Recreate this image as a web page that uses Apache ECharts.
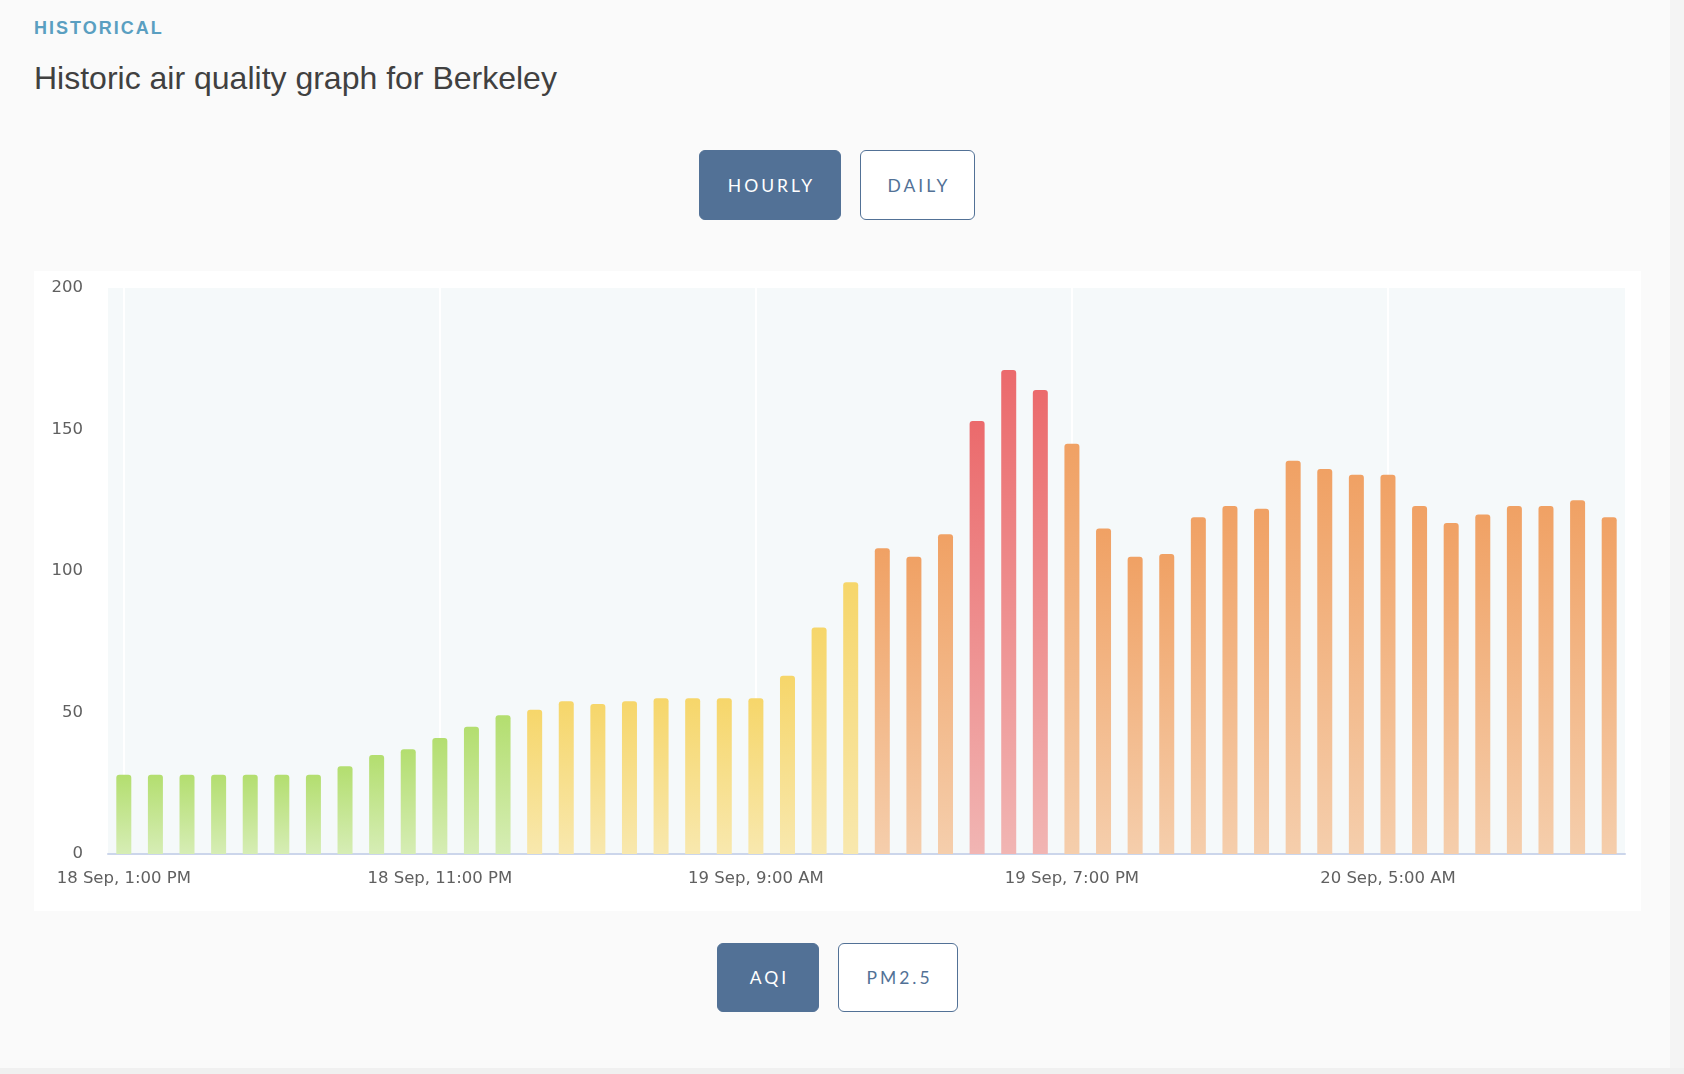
<!DOCTYPE html>
<html>
<head>
<meta charset="utf-8">
<title>Historic air quality graph for Berkeley</title>
<script src="https://cdn.jsdelivr.net/npm/echarts@6/dist/echarts.min.js"></script>
<style>
  html, body { margin: 0; padding: 0; }
  body {
    width: 1684px; height: 1074px; position: relative; overflow: hidden;
    background: #fafafa; font-family: "Liberation Sans", Arial, sans-serif;
  }
  .edge-r { position: absolute; left: 1670px; top: 0; width: 14px; height: 1074px; background: #f4f4f4; }
  .edge-b { position: absolute; left: 0; top: 1068px; width: 1684px; height: 6px; background: #f0f0f0; }
  .kicker {
    position: absolute; left: 34px; top: 18px; margin: 0;
    font-size: 18px; font-weight: bold; letter-spacing: 2px; color: #5a9fc1;
  }
  .title {
    position: absolute; left: 34px; top: 60px; margin: 0;
    font-size: 32px; font-weight: normal; color: #404040;
  }
  .btn {
    position: absolute; box-sizing: border-box; border-radius: 6px;
    border: 1px solid #527196; background: #fff; color: #527196;
    font-family: Lato, "Noto Sans", sans-serif; font-size: 17.5px; letter-spacing: 3px;
    display: flex; align-items: center; justify-content: center; padding-left: 3px;
  }
  .btn.on { background: #527196; color: #fff; }
  #chart {
    position: absolute; left: 34px; top: 271px; width: 1607px; height: 640px; background: #fff;
  }
</style>
</head>
<body>
<div class="edge-r"></div>
<div class="edge-b"></div>
<p class="kicker">HISTORICAL</p>
<h2 class="title">Historic air quality graph for Berkeley</h2>

<div class="btn on" style="left:699px;top:150px;width:142px;height:70px;">HOURLY</div>
<div class="btn" style="left:860px;top:150px;width:115px;height:70px;">DAILY</div>

<div id="chart"></div>

<div class="btn on" style="left:717px;top:943px;width:102px;height:69px;">AQI</div>
<div class="btn" style="left:838px;top:943px;width:120px;height:69px;">PM2.5</div>

<script>
// hourly categories, 18 Sep 1 PM -> 20 Sep 12 PM
var hours = [
  '18 Sep, 1:00 PM', '18 Sep, 2:00 PM', '18 Sep, 3:00 PM', '18 Sep, 4:00 PM', '18 Sep, 5:00 PM',
  '18 Sep, 6:00 PM', '18 Sep, 7:00 PM', '18 Sep, 8:00 PM', '18 Sep, 9:00 PM', '18 Sep, 10:00 PM',
  '18 Sep, 11:00 PM', '19 Sep, 12:00 AM', '19 Sep, 1:00 AM', '19 Sep, 2:00 AM', '19 Sep, 3:00 AM',
  '19 Sep, 4:00 AM', '19 Sep, 5:00 AM', '19 Sep, 6:00 AM', '19 Sep, 7:00 AM', '19 Sep, 8:00 AM',
  '19 Sep, 9:00 AM', '19 Sep, 10:00 AM', '19 Sep, 11:00 AM', '19 Sep, 12:00 PM', '19 Sep, 1:00 PM',
  '19 Sep, 2:00 PM', '19 Sep, 3:00 PM', '19 Sep, 4:00 PM', '19 Sep, 5:00 PM', '19 Sep, 6:00 PM',
  '19 Sep, 7:00 PM', '19 Sep, 8:00 PM', '19 Sep, 9:00 PM', '19 Sep, 10:00 PM', '19 Sep, 11:00 PM',
  '20 Sep, 12:00 AM', '20 Sep, 1:00 AM', '20 Sep, 2:00 AM', '20 Sep, 3:00 AM', '20 Sep, 4:00 AM',
  '20 Sep, 5:00 AM', '20 Sep, 6:00 AM', '20 Sep, 7:00 AM', '20 Sep, 8:00 AM', '20 Sep, 9:00 AM',
  '20 Sep, 10:00 AM', '20 Sep, 11:00 AM', '20 Sep, 12:00 PM'
];

// AQI per hour
var aqi = [
  28, 28, 28, 28, 28, 28, 28, 31, 35, 37,
  41, 45, 49, 51, 54, 53, 54, 55, 55, 55,
  55, 63, 80, 96, 108, 105, 113, 153, 171, 164,
  145, 115, 105, 106, 119, 123, 122, 139, 136, 134,
  134, 123, 117, 120, 123, 123, 125, 119
];

var yTicks = [0, 50, 100, 150, 200];

// AQI band colours (top of bar, bottom of bar)
var bands = [
  { max: 50,  top: '#b3de6f', bottom: '#d6edb5' },
  { max: 100, top: '#f6d66a', bottom: '#f8e8ae' },
  { max: 150, top: '#f0a164', bottom: '#f5ceac' },
  { max: 500, top: '#eb6a6c', bottom: '#f1b5b3' }
];

function barColor(v) {
  var b = bands[bands.length - 1];
  for (var i = 0; i < bands.length; i++) {
    if (v <= bands[i].max) { b = bands[i]; break; }
  }
  return new echarts.graphic.LinearGradient(0, 0, 0, 1, [
    { offset: 0, color: b.top },
    { offset: 1, color: b.bottom }
  ]);
}

var chart = echarts.init(document.getElementById('chart'));

var labelFont = { color: '#606060', fontSize: 16.5, fontFamily: '"DejaVu Sans", Verdana, sans-serif' };

chart.setOption({
  animation: false,
  grid: {
    left: 74, right: 16, top: 17, bottom: 57,
    show: true, backgroundColor: '#f5f9fa', borderWidth: 0
  },
  xAxis: {
    type: 'category',
    data: hours,
    axisLine: { lineStyle: { color: '#ccd6eb', width: 2 } },
    axisTick: { alignWithLabel: true, interval: 9, length: 14, lineStyle: { color: '#c5d0e8', width: 1.5 } },
    splitLine: { show: true, alignWithLabel: true, interval: 9, lineStyle: { color: '#ffffff', width: 2 } },
    axisLabel: Object.assign({ interval: 9, margin: 16 }, labelFont)
  },
  yAxis: {
    type: 'value',
    min: yTicks[0],
    max: yTicks[yTicks.length - 1],
    interval: 50,
    axisLine: { show: false },
    axisTick: { show: false },
    splitLine: { show: false },
    axisLabel: Object.assign({ margin: 25, padding: [6, 0, 0, 0] }, labelFont)
  },
  series: [{
    type: 'bar',
    barWidth: 15,
    data: aqi.map(function (v) {
      return { value: v, itemStyle: { color: barColor(v), borderRadius: [3, 3, 0, 0] } };
    })
  }]
});
</script>
</body>
</html>
